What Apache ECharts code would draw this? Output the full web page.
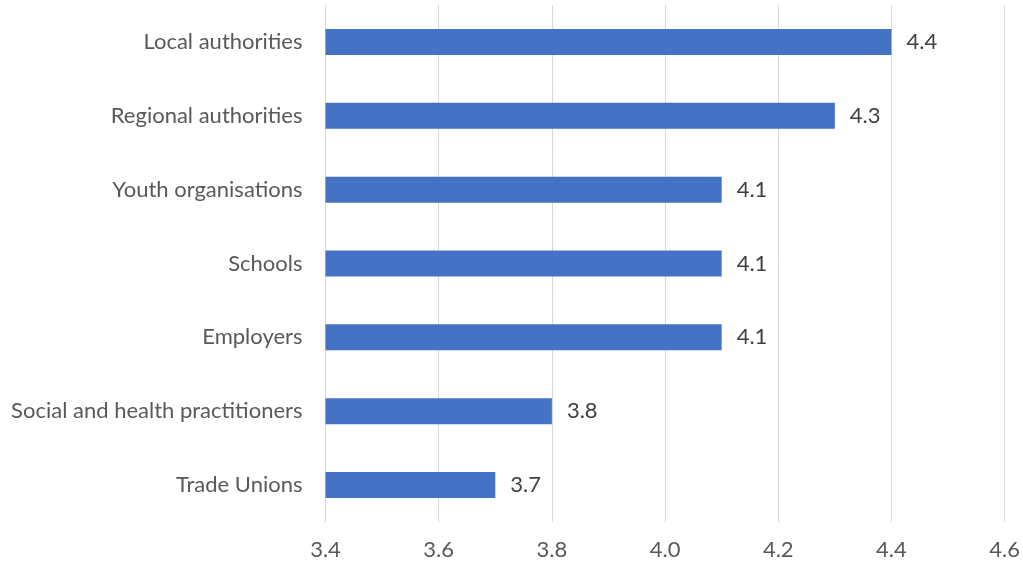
<!DOCTYPE html>
<html>
<head>
<meta charset="utf-8">
<script src="https://cdn.jsdelivr.net/npm/echarts@6/dist/echarts.min.js"></script>
<style>
  html, body { margin: 0; padding: 0; background: #ffffff; }
  #chart { width: 1023px; height: 565px; }
</style>
</head>
<body>
<div id="chart"></div>
<script>
// Stakeholder groups, listed bottom to top as the category axis draws them
const categories = [
  'Trade Unions',
  'Social and health practitioners',
  'Employers',
  'Schools',
  'Youth organisations',
  'Regional authorities',
  'Local authorities'
];
const scores = [3.7, 3.8, 4.1, 4.1, 4.1, 4.3, 4.4];
const xTicks = { min: 3.4, max: 4.6, step: 0.2 };

const FONT = 'Lato, "Open Sans", sans-serif';
const chart = echarts.init(document.getElementById('chart'), null, { renderer: 'canvas' });

chart.setOption({
  animation: false,
  grid: { left: 325.5, right: 17, top: 5, bottom: 43, containLabel: false },
  xAxis: {
    type: 'value',
    min: xTicks.min,
    max: xTicks.max,
    interval: xTicks.step,
    axisLine: { show: false },
    axisTick: { show: false },
    splitLine: { show: true, lineStyle: { color: '#d9d9d9', width: 1 } },
    axisLabel: {
      color: '#595959',
      fontFamily: FONT,
      fontSize: 22,
      margin: 17,
      formatter: v => v.toFixed(1)
    }
  },
  yAxis: {
    type: 'category',
    data: categories,
    axisLine: { show: false },
    axisTick: { show: false },
    splitLine: { show: false },
    axisLabel: {
      color: '#595959',
      fontFamily: FONT,
      fontSize: 22,
      margin: 23
    }
  },
  series: [{
    type: 'bar',
    data: scores,
    barWidth: 26,
    itemStyle: { color: '#4472c4' },
    label: {
      show: true,
      position: 'right',
      distance: 15,
      color: '#404040',
      fontFamily: FONT,
      fontSize: 22,
      formatter: p => p.value.toFixed(1)
    }
  }]
});
</script>
</body>
</html>
